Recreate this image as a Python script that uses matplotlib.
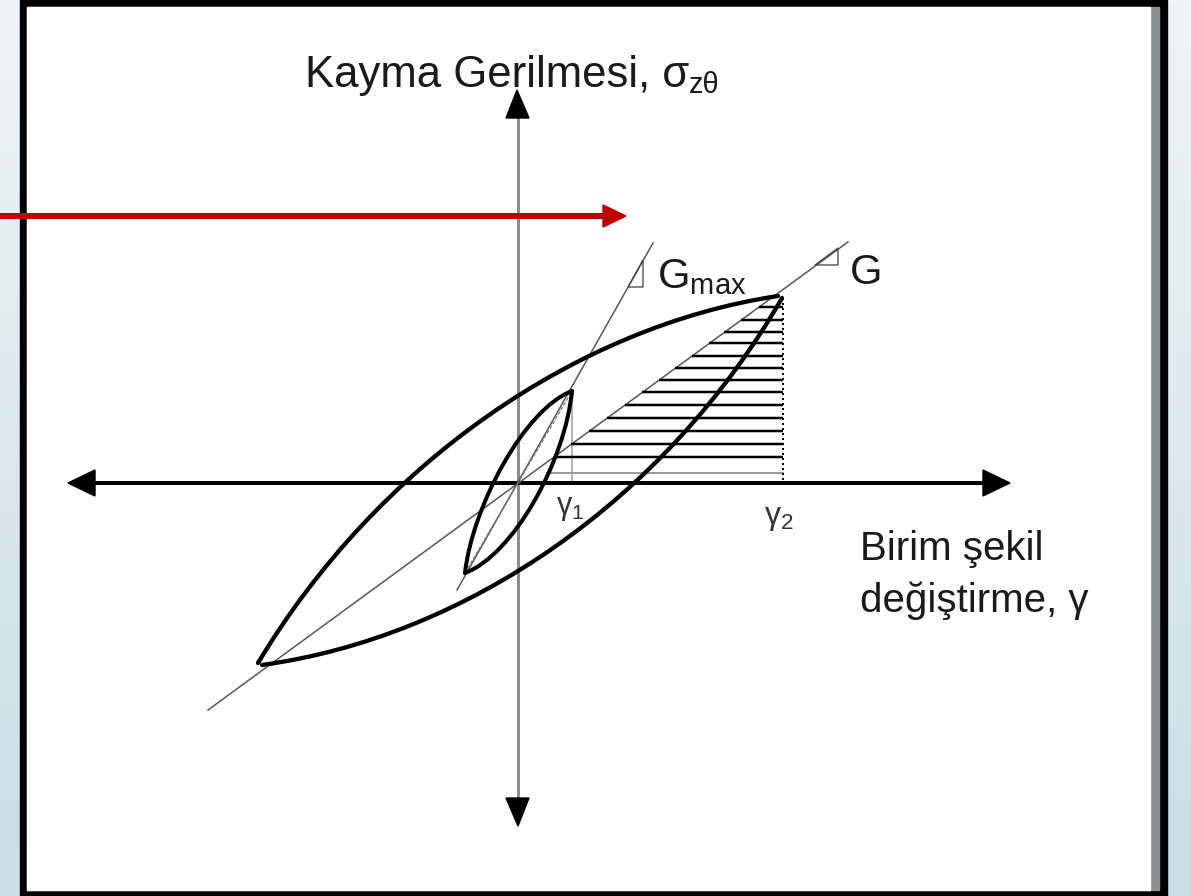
import numpy as np
import matplotlib
matplotlib.use('Agg')
import matplotlib.pyplot as plt
from matplotlib.path import Path
from matplotlib.patches import PathPatch, Polygon
from matplotlib.colors import LinearSegmentedColormap

plt.rcParams['font.family'] = ['Liberation Sans', 'DejaVu Sans']
plt.rcParams['mathtext.fontset'] = 'custom'
plt.rcParams['mathtext.rm'] = 'Liberation Sans'
plt.rcParams['mathtext.it'] = 'Liberation Sans:italic'

# drawing is done in pixel units of the 1191x896 picture (y grows downward)
W, H = 1191, 896
origin = (518, 483)

# hysteresis branches as cubic Bezier control points (start, c1, c2, end)
big_upper = [(258, 663), (378, 463), (578, 326), (778, 296)]
big_lower = [(262, 665), (466, 637), (666, 500), (782, 298)]
small_upper = [(465, 573), (472, 508), (524, 409), (572, 391)]
small_lower = [(465, 573), (513, 555), (565, 462), (572, 391)]

# thin secant lines (end points)
gmax_line = [(457, 590), (653, 243)]
g_line = [(208, 710), (848, 242)]
small_secant = [(465, 573), (572, 391)]

# slope triangles
gmax_tri = [(628, 287), (643, 287), (643, 260)]
g_tri = [(815, 265), (838, 265), (838, 248)]

# hatching (horizontal lines between G line and gamma2)
hatch_y = [457, 444, 431, 418, 405, 392, 380, 368, 356, 343, 332, 320, 307]
gamma1_x = 572
gamma2_x = 783

fig = plt.figure(figsize=(W / 100, H / 100), dpi=100)
ax = fig.add_axes([0, 0, 1, 1])
ax.set_xlim(0, W)
ax.set_ylim(H, 0)
ax.axis('off')

px = 0.72  # one pixel in points

# slide background strips
cmap = LinearSegmentedColormap.from_list('bg', ['#eef4f7', '#c9dde5'])
grad = np.linspace(0, 1, 256).reshape(-1, 1)
ax.imshow(grad, cmap=cmap, extent=(0, 20, H, 0), aspect='auto', zorder=0)
ax.imshow(grad, cmap=cmap, extent=(1167, W, H, 0), aspect='auto', zorder=0)

# frame
ax.add_patch(plt.Rectangle((20, 0), 1147, H, color='black', zorder=1))
ax.add_patch(plt.Rectangle((27, 7), 1132, 883, color='#8a8f91', zorder=1))
ax.add_patch(plt.Rectangle((27, 7), 1123, 883, color='white', zorder=1))


def bezier(pts, lw, color='black'):
    verts = list(pts)
    codes = [Path.MOVETO, Path.CURVE4, Path.CURVE4, Path.CURVE4]
    ax.add_patch(PathPatch(Path(verts, codes), fill=False, lw=lw, color=color,
                           capstyle='round', zorder=5))


def seg(p, q, lw, color='black', **kw):
    ax.plot([p[0], q[0]], [p[1], q[1]], color=color, lw=lw, **kw)


# axes
ox, oy = origin
seg((ox, 118), (ox, 800), 3 * px, '#8c8c8c', zorder=2)
ax.add_patch(Polygon([(ox - 1, 90), (ox - 12, 118), (ox + 11, 118)], color='black', zorder=3))
ax.add_patch(Polygon([(ox, 826), (ox - 12, 798), (ox + 11, 798)], color='black', zorder=3))
seg((95, oy), (985, oy), 4 * px, 'black', zorder=3)
ax.add_patch(Polygon([(68, oy), (95, oy - 13), (95, oy + 13)], color='black', zorder=3))
ax.add_patch(Polygon([(1010, oy), (983, oy - 13), (983, oy + 13)], color='black', zorder=3))

# red pointer arrow
seg((0, 216), (604, 216), 6 * px, '#c00000', zorder=6, solid_capstyle='butt')
ax.add_patch(Polygon([(626, 216), (603, 205), (603, 227)], color='#c00000', zorder=6))

# thin lines
seg(*gmax_line, 1.5 * px, '#555555', zorder=4)
seg(*g_line, 1.5 * px, '#555555', zorder=4)
seg(*small_secant, 1.2 * px, '#777777', zorder=4, ls=(0, (3, 1.5)))
ax.add_patch(Polygon(gmax_tri, closed=True, fill=False, ec='#444444', lw=1.3 * px, zorder=4))
ax.add_patch(Polygon(g_tri, closed=True, fill=False, ec='#444444', lw=1.3 * px, zorder=4))

# hatching
g_slope = (g_line[0][1] - g_line[1][1]) / (g_line[1][0] - g_line[0][0])
for y in hatch_y:
    x0 = ox + (oy - y) / g_slope
    seg((x0, y), (gamma2_x, y), 2.5 * px, 'black', zorder=4, solid_capstyle='butt')
seg((547, 473), (gamma2_x, 473), 2 * px, '#9a9a9a', zorder=4)
seg((gamma1_x, 393), (gamma1_x, oy), 2 * px, '#b5b5b5', zorder=2)
seg((gamma2_x, 298), (gamma2_x, oy), 2 * px, 'black', zorder=4, ls=(0, (1, 1.5)))

# loops
for b in (big_upper, big_lower):
    bezier(b, 4.3 * px)
for b in (small_upper, small_lower):
    bezier(b, 4 * px)

# labels
tc = '#1a1a1a'
ax.text(305, 87, 'Kayma Gerilmesi, σ', fontsize=31.5, color=tc,
        ha='left', va='baseline', zorder=7)
ax.text(689, 93, 'zθ', fontsize=21, color=tc, ha='left', va='baseline', zorder=7)
ax.text(657, 288, r'G$_{\mathrm{max}}$', fontsize=30, color=tc, ha='left', va='baseline', zorder=7)
ax.text(850, 284, 'G', fontsize=30, color=tc, ha='left', va='baseline', zorder=7)
ax.text(860, 560, 'Birim şekil', fontsize=29, color=tc, ha='left', va='baseline', zorder=7)
ax.text(860, 612, 'değiştirme, γ', fontsize=29, color=tc, ha='left', va='baseline', zorder=7)
ax.text(556, 514, r'$\mathrm{γ}_{\mathrm{1}}$', fontsize=22, color='#333333', ha='left',
        va='baseline', zorder=7)
ax.text(764, 524, r'$\mathrm{γ}_{\mathrm{2}}$', fontsize=23, color='#333333', ha='left',
        va='baseline', zorder=7)

fig.savefig('out.png', dpi=100)
